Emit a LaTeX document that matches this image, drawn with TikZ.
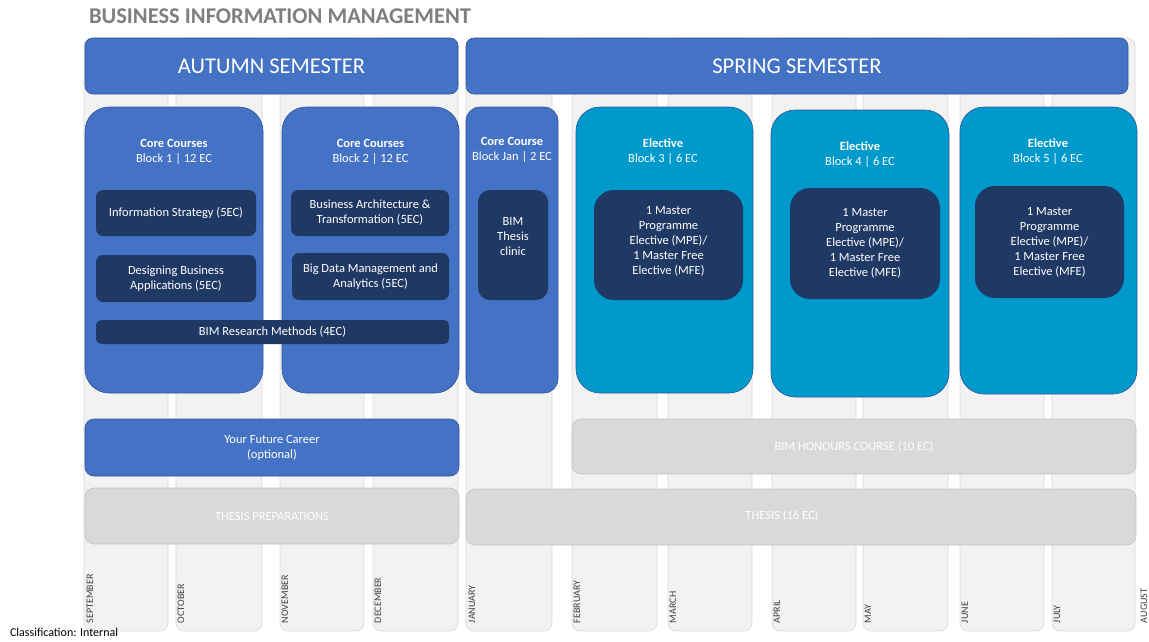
\documentclass[tikz,border=0pt]{standalone}
\usepackage{fontspec}
\setmainfont{Carlito}

\definecolor{hdrblue}{HTML}{4472C4}
\definecolor{hdrline}{HTML}{2F5597}
\definecolor{eleccyan}{HTML}{0099CC}
\definecolor{elecline}{HTML}{2F5597}
\definecolor{darkbox}{HTML}{203864}
\definecolor{barfill}{HTML}{D9D9D9}
\definecolor{barline}{HTML}{C4C4C4}
\definecolor{colfill}{HTML}{F2F2F2}
\definecolor{colline}{HTML}{D9D9D9}
\definecolor{titlegray}{HTML}{7F7F7F}
\definecolor{monthtxt}{HTML}{404040}

\begin{document}
\begin{tikzpicture}[x=1pt,y=-1pt,
	every node/.style={inner sep=0pt,outer sep=0pt},
	monthcol/.style={draw=colline,fill=colfill,line width=0.6pt,rounded corners=8pt},
	monthlbl/.style={rotate=90,anchor=west,text=monthtxt,font=\fontsize{10}{10}\selectfont},
	semester/.style={draw=hdrline,fill=hdrblue,line width=0.6pt,rounded corners=8pt,text=white,font=\fontsize{22.5}{22.5}\selectfont},
	coreblk/.style={draw=hdrline,fill=hdrblue,line width=0.6pt,rounded corners=24pt},
	elecblk/.style={draw=elecline,fill=eleccyan,line width=0.6pt,rounded corners=24pt},
	blkhead/.style={text=white,align=center,font=\fontsize{12.5}{15}\selectfont},
	course/.style={fill=darkbox,rounded corners=7pt,text=white,align=center,font=\fontsize{12.5}{15}\selectfont},
	graybar/.style={draw=barline,fill=barfill,line width=0.6pt,rounded corners=9pt,text=white,align=center,font=\fontsize{12.5}{15}\selectfont}]
	\useasboundingbox[fill=white] (0,0) rectangle (1149,641);

	% month columns
	\foreach \l/\r in {84/168,176/262,280/364,373/458,466/552,572/657,668/752,772/856,863/948,960/1044,1052/1135}
		\draw[monthcol] (\l,38) rectangle (\r,631);
	\foreach \c/\m/\n in {90/SEPTEMBER/sep,181/OCTOBER/oct,285/NOVEMBER/nov,378/DECEMBER/dec,472/JANUARY/jan,577/FEBRUARY/feb,673/MARCH/mar,777/APRIL/apr,868/MAY/may,965/JUNE/jun,1057/JULY/jul,1144/AUGUST/aug}
		\node[monthlbl] (m-\n) at (\c,623) {\m};

	\node[anchor=west,text=titlegray,font=\fontsize{22.5}{22.5}\selectfont\bfseries] (title) at (89,16) {BUSINESS INFORMATION MANAGEMENT};
	\node[anchor=west,font=\fontsize{12}{12}\selectfont] (class) at (10,632) {Classification: Internal};

	\node[semester,minimum width=373,minimum height=56] (autumn) at (271.5,66) {AUTUMN SEMESTER};
	\node[semester,minimum width=662,minimum height=56] (spring) at (797,66) {SPRING SEMESTER};

	% blocks
	\node[coreblk,minimum width=178,minimum height=286] (b1) at (174,250) {};
	\node[coreblk,minimum width=177,minimum height=286] (b2) at (370.5,250) {};
	\node[coreblk,rounded corners=14pt,minimum width=92,minimum height=286] (bjan) at (512,250) {};
	\node[elecblk,minimum width=177,minimum height=286] (b3) at (664.5,250) {};
	\node[elecblk,minimum width=178,minimum height=287] (b4) at (860,253.5) {};
	\node[elecblk,minimum width=177,minimum height=287] (b5) at (1048.5,250.5) {};

	\node[blkhead] (b1-head) at (174,152) {\textbf{Core Courses}\\Block 1 | 12 EC};
	\node[blkhead] (b2-head) at (370.5,152) {\textbf{Core Courses}\\Block 2 | 12 EC};
	\node[blkhead] (bjan-head) at (512,150) {\textbf{Core Course}\\Block Jan | 2 EC};
	\node[blkhead] (b3-head) at (663,152) {\textbf{Elective}\\Block 3 | 6 EC};
	\node[blkhead] (b4-head) at (860,154.5) {\textbf{Elective}\\Block 4 | 6 EC};
	\node[blkhead] (b5-head) at (1048,152) {\textbf{Elective}\\Block 5 | 6 EC};

	% courses
	\node[course,minimum width=160,minimum height=46] (infostrat) at (176,213) {Information Strategy (5EC)};
	\node[course,minimum width=160,minimum height=47] (designing) at (176,278.5) {Designing Business\\Applications (5EC)};
	\node[course,minimum width=158,minimum height=46] (busarch) at (370,213) {Business Architecture \&\\Transformation (5EC)};
	\node[course,minimum width=157,minimum height=47] (bigdata) at (370.5,276.5) {Big Data Management and\\Analytics (5EC)};
	\node[course,rounded corners=5pt,minimum width=353,minimum height=24] (research) at (272.5,332) {BIM Research Methods (4EC)};
	\node[course,rounded corners=12pt,minimum width=70,minimum height=110] (clinic) at (513,245) {};
	\node[blkhead] (clinic-t) at (513,237) {BIM\\Thesis\\clinic};
	\node[course,rounded corners=20pt,minimum width=149,minimum height=110] (b3-mpe) at (668.5,245) {};
	\node[blkhead] (b3-mpe-t) at (668.5,241.5) {1 Master\\Programme\\Elective (MPE)/\\1 Master Free\\Elective (MFE)};
	\node[course,rounded corners=20pt,minimum width=150,minimum height=111] (b4-mpe) at (865,243.5) {1 Master\\Programme\\Elective (MPE)/\\1 Master Free\\Elective (MFE)};
	\node[course,rounded corners=20pt,minimum width=149,minimum height=112] (b5-mpe) at (1049.5,242) {1 Master\\Programme\\Elective (MPE)/\\1 Master Free\\Elective (MFE)};

	% bars
	\node[coreblk,rounded corners=9pt,blkhead,minimum width=374,minimum height=57] (career) at (272,447.5) {Your Future Career\\(optional)};
	\node[graybar,minimum width=374,minimum height=56] (thesisprep) at (272,516) {THESIS PREPARATIONS};
	\node[graybar,minimum width=564,minimum height=55] (honours) at (854,446.5) {BIM HONOURS COURSE (10 EC)};
	\node[graybar,minimum width=670,minimum height=56] (thesis) at (801,517) {};
	\node[graybar,draw=none,fill=none] (thesis-t) at (782,516) {THESIS (16 EC)};
\end{tikzpicture}
\end{document}
